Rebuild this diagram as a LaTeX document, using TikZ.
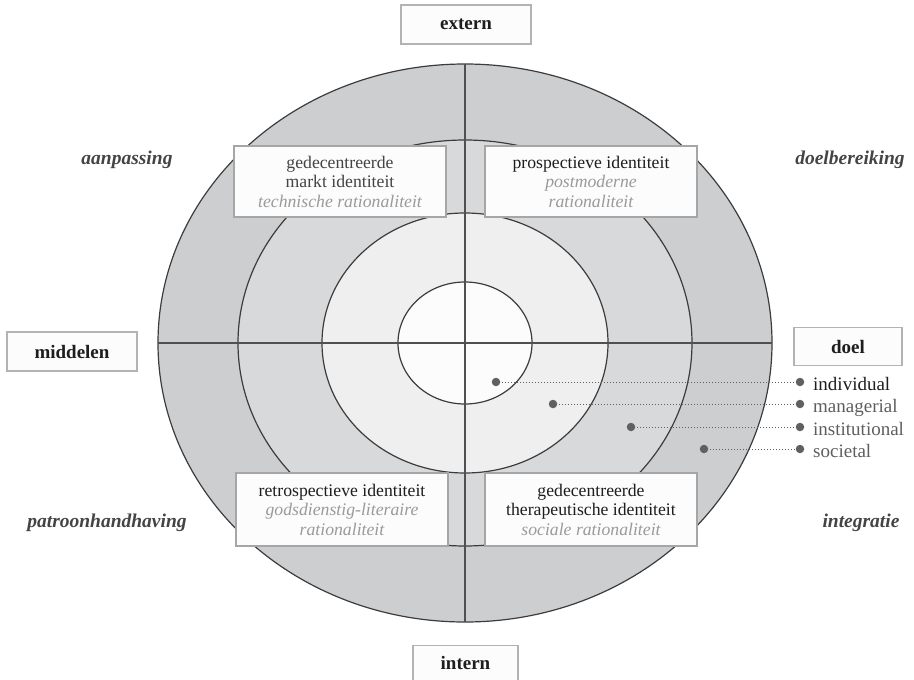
\documentclass[tikz,border=0pt]{standalone}
\usepackage{fontspec}
\setmainfont{Liberation Serif}
\definecolor{ringOuter}{HTML}{CDCED0}
\definecolor{ringSecond}{HTML}{D8D9DB}
\definecolor{ringThird}{HTML}{EFEFEF}
\definecolor{ringCore}{HTML}{FCFCFC}
\definecolor{lineDark}{HTML}{3C3C3C}
\definecolor{boxEdge}{HTML}{A6A6A6}
\definecolor{boxFill}{HTML}{FCFCFC}
\definecolor{textMain}{HTML}{1E1E1E}
\definecolor{textSoft}{HTML}{444444}
\definecolor{textPale}{HTML}{9A9A9A}
\definecolor{dotGray}{HTML}{606060}
\definecolor{listGray}{HTML}{5E5E5E}
\begin{document}
\begin{tikzpicture}[x=1pt,y=-1pt,
  ring/.style={draw=lineDark, line width=1.2pt},
  axis/.style={draw=lineDark!90, line width=1.4pt},
  qbox/.style={draw=boxEdge, fill=boxFill, line width=1.6pt, rectangle,
    inner sep=0pt, align=center, text=textMain,
    font=\fontsize{17.7}{19.5}\selectfont},
  lbox/.style={draw=boxEdge!85, fill=boxFill, line width=1.3pt, rectangle,
    inner sep=0pt, text=textMain, font=\fontsize{19}{22}\selectfont\bfseries},
  qlabel/.style={text=textSoft, font=\fontsize{19.5}{22}\selectfont\bfseries\itshape},
  dot/.style={circle, fill=dotGray, inner sep=0pt, minimum size=8.5pt},
  dotline/.style={draw=dotGray, line width=1pt, dotted, shorten <=-1pt, shorten >=-1pt},
  listlabel/.style={anchor=base west, inner sep=0pt, font=\fontsize{19}{22}\selectfont}
]
\useasboundingbox (0,0) rectangle (914,680);

% concentric rings
\coordinate (c) at (465,343);
\filldraw[ring, fill=ringOuter]  (c) ellipse [x radius=307pt, y radius=279pt];
\filldraw[ring, fill=ringSecond] (c) ellipse [x radius=227pt, y radius=203pt];
\filldraw[ring, fill=ringThird]  (c) ellipse [x radius=143pt, y radius=130pt];
\filldraw[ring, fill=ringCore]   (c) ellipse [x radius=67pt,  y radius=61pt];

% axes
\coordinate (axW) at (158,343);
\coordinate (axE) at (772,343);
\coordinate (axN) at (465,64);
\coordinate (axS) at (465,622);
\draw[axis] (axW) -- (axE);
\draw[axis] (axN) -- (axS);

% quadrant boxes
\node[qbox, minimum width=212pt, minimum height=71pt] (tl) at (340,181.5)
  {{\color{textSoft}gedecentreerde}\\{\color{textSoft}markt identiteit}\\{\color{textPale}\itshape technische rationaliteit}};
\node[qbox, minimum width=212pt, minimum height=71pt] (tr) at (591,181.5)
  {prospectieve identiteit\\{\color{textPale}\itshape postmoderne}\\{\color{textPale}\itshape rationaliteit}};
\node[qbox, minimum width=212pt, minimum height=73pt] (bl) at (342,509.5)
  {retrospectieve identiteit\\{\color{textPale}\itshape godsdienstig-literaire}\\{\color{textPale}\itshape rationaliteit}};
\node[qbox, minimum width=212pt, minimum height=73pt] (br) at (591,509.5)
  {gedecentreerde\\therapeutische identiteit\\{\color{textPale}\itshape sociale rationaliteit}};

% axis labels
\node[lbox, minimum width=130pt, minimum height=39pt] (extern) at (466,24.5) {extern};
\node[lbox, minimum width=105pt, minimum height=35pt] (intern) at (465.5,663) {intern};
\node[lbox, minimum width=130pt, minimum height=39pt] (middelen) at (72,351.5) {middelen};
\node[lbox, minimum width=108pt, minimum height=38pt] (doel) at (848,346.5) {doel};

% quadrant functions
\node[qlabel] (aanp) at (127,160) {aanpassing};
\node[qlabel] (doelb) at (850,160) {doelbereiking};
\node[qlabel] (patr) at (107,523) {patroonhandhaving};
\node[qlabel] (integr) at (861,523) {integratie};

% levels legend
\node[dot] (d1) at (496,382) {};
\node[dot] (d2) at (553,404) {};
\node[dot] (d3) at (631,427) {};
\node[dot] (d4) at (704,449) {};
\node[dot] (e1) at (800,382) {};
\node[dot] (e2) at (800,404) {};
\node[dot] (e3) at (800,427) {};
\node[dot] (e4) at (800,449) {};
\draw[dotline] (d1) -- (e1);
\draw[dotline] (d2) -- (e2);
\draw[dotline] (d3) -- (e3);
\draw[dotline] (d4) -- (e4);
\node[listlabel, text=textMain] (l1) at (813,390) {individual};
\node[listlabel, text=listGray] (l2) at (813,412) {managerial};
\node[listlabel, text=listGray] (l3) at (813,435) {institutional};
\node[listlabel, text=listGray] (l4) at (813,457) {societal};
\end{tikzpicture}
\end{document}
